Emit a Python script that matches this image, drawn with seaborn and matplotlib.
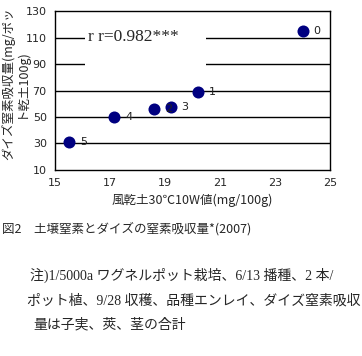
import matplotlib
matplotlib.use("Agg")
import matplotlib.pyplot as plt
import matplotlib.patches as mpatches
import pandas as pd
import seaborn as sns

# data
soil_n = [24.0, 20.2, 18.6, 19.2, 17.15, 15.5]
uptake = [115, 69, 56, 57.5, 50, 31]
labels = ["0", "1", "2", "3", "4", "5"]

x_ticks = [15, 17, 19, 21, 23, 25]
y_ticks = [10, 30, 50, 70, 90, 110, 130]

df = pd.DataFrame({"soil_n": soil_n, "uptake": uptake, "label": labels})

sns.set_style("white")
plt.rcParams["font.family"] = ["Noto Sans CJK JP", "DejaVu Sans"]

fig = plt.figure(figsize=(3.62, 3.56), dpi=100)
ax = fig.add_axes([0.152, 0.5225, 0.760, 0.4465])

# horizontal grid only
for yv in y_ticks[1:-1]:
    ax.axhline(yv, color="black", lw=1.0, zorder=1)

# white box behind the r value
ax.add_patch(mpatches.Rectangle((0.109, 0.60), 0.44, 0.30, transform=ax.transAxes,
                                facecolor="white", edgecolor="none", zorder=2))
ax.text(0.12, 0.835, "r r=0.982***", transform=ax.transAxes, fontsize=12.5,
        family=["Liberation Serif"], va="center", ha="left", zorder=3)

sns.scatterplot(data=df, x="soil_n", y="uptake", color="#000080", s=75,
                edgecolor="#000080", linewidth=0, ax=ax, zorder=4)

for xv, yv, lab in zip(soil_n, uptake, labels):
    ax.annotate(lab, (xv, yv), xytext=(8, 0), textcoords="offset points",
                fontsize=8, va="center", ha="left", color="#202020",
                family=["DejaVu Sans"], zorder=5)

ax.set_xlim(15, 25)
ax.set_ylim(10, 130)
ax.set_xticks(x_ticks)
ax.set_yticks(y_ticks)
ax.tick_params(axis="x", direction="in", length=3, width=1, color="black",
               labelsize=8, pad=6)
ax.tick_params(axis="y", length=0, labelsize=8, pad=6)
for lab in ax.get_xticklabels() + ax.get_yticklabels():
    lab.set_family(["DejaVu Sans"])
for sp in ax.spines.values():
    sp.set_color("black")
    sp.set_linewidth(1.0)

ax.set_xlabel("風乾土30℃10W値(mg/100g)", fontsize=9, labelpad=4)
ax.set_ylabel("ダイズ窒素吸収量(mg/ポッ\nト乾土100g)", fontsize=9,
              multialignment="center", linespacing=0.95)
ax.yaxis.set_label_coords(-0.1, 0.545)

fig.text(0.006, 0.357, "図2　土壌窒素とダイズの窒素吸収量*(2007)", fontsize=9,
         va="center", ha="left")

notes = ["注)1/5000a ワグネルポット栽培、6/13 播種、2 本/",
         "ポット植、9/28 収穫、品種エンレイ、ダイズ窒素吸収",
         "量は子実、莢、茎の合計"]
note_x = [30, 27, 33]
note_y = [275, 301, 325]
for t, nx, ny in zip(notes, note_x, note_y):
    fig.text(nx / 362, 1 - ny / 356, t, fontsize=10, va="center", ha="left",
             family=["Liberation Serif", "Noto Sans CJK JP"])

fig.savefig("out.png", dpi=100, facecolor="white")
